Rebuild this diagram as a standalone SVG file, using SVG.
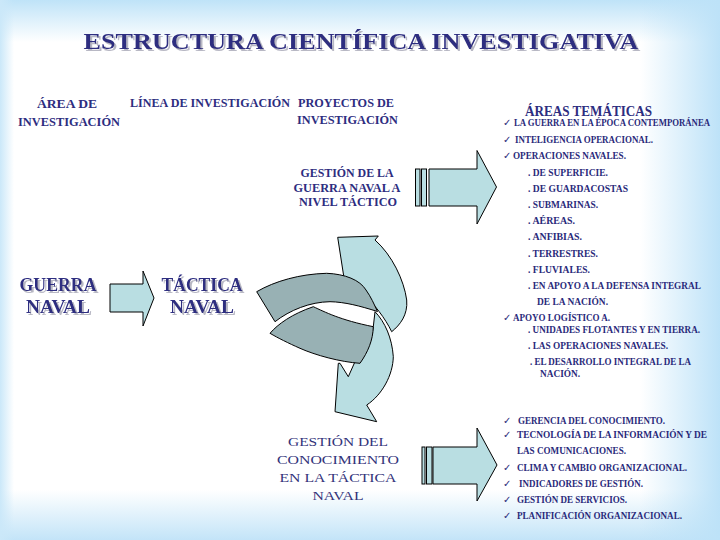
<svg xmlns="http://www.w3.org/2000/svg" width="720" height="540" viewBox="0 0 720 540">
<defs>
<linearGradient id="gTop" x1="0" y1="0" x2="0" y2="1"><stop offset="0" stop-color="#bfe3f8"/><stop offset="1" stop-color="#bfe3f8" stop-opacity="0"/></linearGradient>
<linearGradient id="gBot" x1="0" y1="0" x2="0" y2="1"><stop offset="0" stop-color="#c3e4f8" stop-opacity="0"/><stop offset="1" stop-color="#c3e4f8"/></linearGradient>
<linearGradient id="gRight" x1="0" y1="0" x2="1" y2="0"><stop offset="0" stop-color="#bfe3f8" stop-opacity="0"/><stop offset="1" stop-color="#bde2f8"/></linearGradient>
<linearGradient id="gLeft" x1="0" y1="0" x2="1" y2="0"><stop offset="0" stop-color="#cbe8f9"/><stop offset="1" stop-color="#cbe8f9" stop-opacity="0"/></linearGradient>
<filter id="shadow" x="-5%" y="-20%" width="110%" height="150%">
<feDropShadow dx="2" dy="2" stdDeviation="0.4" flood-color="#b8b8c4" flood-opacity="1"/>
</filter>
<style>
.t{font-family:"Liberation Serif","Times New Roman",serif;font-weight:bold;fill:#2d2d80}
.hd{font-size:12.5px}
.li{font-family:"Liberation Serif","Times New Roman",serif;font-weight:bold;font-size:9.5px;fill:#29297a}
.ck{font-family:"DejaVu Sans",sans-serif;font-size:10px;fill:#29297a}
.mid{text-anchor:middle}
.blk{fill:#b9dee2;stroke:#000;stroke-width:1}
.drk{fill:#98b1b4;stroke:#000;stroke-width:1}
.gc{font-family:"Liberation Serif","Times New Roman",serif;font-size:13.5px;fill:#33337a;text-anchor:middle}
</style>
</defs>
<rect width="720" height="540" fill="#ffffff"/>
<rect x="0" y="0" width="720" height="42" fill="url(#gTop)"/>
<rect x="0" y="490" width="720" height="50" fill="url(#gBot)"/>
<rect x="640" y="0" width="80" height="540" fill="url(#gRight)"/>
<rect x="0" y="0" width="14" height="540" fill="url(#gLeft)"/>

<g id="title">
<text class="t" x="361" y="49" font-size="24" text-anchor="middle" textLength="555" lengthAdjust="spacingAndGlyphs" filter="url(#shadow)">ESTRUCTURA CIENTÍFICA INVESTIGATIVA</text>
</g>

<g id="headers">
<text class="t hd mid" x="67" y="108" textLength="60" lengthAdjust="spacingAndGlyphs">ÁREA DE</text>
<text class="t hd mid" x="69" y="126" textLength="102" lengthAdjust="spacingAndGlyphs">INVESTIGACIÓN</text>
<text class="t hd" x="130" y="107" textLength="160" lengthAdjust="spacingAndGlyphs">LÍNEA DE INVESTIGACIÓN</text>
<text class="t hd" x="298" y="107" textLength="96" lengthAdjust="spacingAndGlyphs">PROYECTOS DE</text>
<text class="t hd" x="297" y="124" textLength="101" lengthAdjust="spacingAndGlyphs">INVESTIGACIÓN</text>
</g>

<g id="guerra-naval" filter="url(#shadow)">
<text class="t mid" x="58" y="291" font-size="18" textLength="77" lengthAdjust="spacingAndGlyphs">GUERRA</text>
<text class="t mid" x="58" y="313" font-size="18" textLength="64" lengthAdjust="spacingAndGlyphs">NAVAL</text>
</g>

<g id="tactica-naval" filter="url(#shadow)">
<text class="t mid" x="202" y="291" font-size="18" textLength="81" lengthAdjust="spacingAndGlyphs">TÁCTICA</text>
<text class="t mid" x="202" y="313" font-size="18" textLength="64" lengthAdjust="spacingAndGlyphs">NAVAL</text>
</g>

<g id="gestion-guerra">
<text class="t mid" x="347" y="177" font-size="11.5" textLength="93" lengthAdjust="spacingAndGlyphs">GESTIÓN DE LA</text>
<text class="t mid" x="347" y="192" font-size="11.5" textLength="107" lengthAdjust="spacingAndGlyphs">GUERRA NAVAL A</text>
<text class="t mid" x="348" y="206" font-size="11.5" textLength="98" lengthAdjust="spacingAndGlyphs">NIVEL TÁCTICO</text>
</g>

<g id="gestion-conocimiento">
<text class="gc" x="338" y="446" textLength="100" lengthAdjust="spacingAndGlyphs">GESTIÓN DEL</text>
<text class="gc" x="338" y="464" textLength="122" lengthAdjust="spacingAndGlyphs">CONOCIMIENTO</text>
<text class="gc" x="338" y="482" textLength="117" lengthAdjust="spacingAndGlyphs">EN LA TÁCTICA</text>
<text class="gc" x="338" y="500" textLength="51" lengthAdjust="spacingAndGlyphs">NAVAL</text>
</g>

<g id="areas-tematicas">
<text class="t" x="525" y="116" font-size="14" textLength="127" lengthAdjust="spacingAndGlyphs">ÁREAS TEMÁTICAS</text>
<text class="ck" x="503" y="126">✓</text>
<text class="li" x="514" y="126" font-size="8.5" textLength="196" lengthAdjust="spacingAndGlyphs">LA GUERRA EN LA ÉPOCA CONTEMPORÁNEA</text>
<text class="ck" x="503" y="143">✓</text>
<text class="li" x="515" y="143" textLength="138" lengthAdjust="spacingAndGlyphs">INTELIGENCIA OPERACIONAL.</text>
<text class="ck" x="503" y="159">✓</text>
<text class="li" x="513" y="159" textLength="113" lengthAdjust="spacingAndGlyphs">OPERACIONES NAVALES.</text>
<text class="li" x="528" y="176" textLength="80" lengthAdjust="spacingAndGlyphs">. DE  SUPERFICIE.</text>
<text class="li" x="528" y="192" textLength="100" lengthAdjust="spacingAndGlyphs">. DE   GUARDACOSTAS</text>
<text class="li" x="528" y="208" textLength="70" lengthAdjust="spacingAndGlyphs">. SUBMARINAS.</text>
<text class="li" x="528" y="224" textLength="47" lengthAdjust="spacingAndGlyphs">.  AÉREAS.</text>
<text class="li" x="528" y="240" textLength="54" lengthAdjust="spacingAndGlyphs">.  ANFIBIAS.</text>
<text class="li" x="528" y="257" textLength="70" lengthAdjust="spacingAndGlyphs">.  TERRESTRES.</text>
<text class="li" x="528" y="273" textLength="62" lengthAdjust="spacingAndGlyphs">.  FLUVIALES.</text>
<text class="li" x="528" y="289" textLength="173" lengthAdjust="spacingAndGlyphs">.  EN APOYO A LA DEFENSA INTEGRAL</text>
<text class="li" x="537" y="305" textLength="71" lengthAdjust="spacingAndGlyphs">DE  LA  NACIÓN.</text>
<text class="ck" x="503" y="321">✓</text>
<text class="li" x="513" y="321" textLength="97" lengthAdjust="spacingAndGlyphs">APOYO LOGÍSTICO A.</text>
<text class="li" x="528" y="333" textLength="172" lengthAdjust="spacingAndGlyphs">. UNIDADES FLOTANTES Y EN  TIERRA.</text>
<text class="li" x="528" y="349" textLength="140" lengthAdjust="spacingAndGlyphs">.  LAS OPERACIONES NAVALES.</text>
<text class="li" x="530" y="365" textLength="161" lengthAdjust="spacingAndGlyphs">. EL DESARROLLO INTEGRAL DE LA</text>
<text class="li" x="540" y="377" textLength="40" lengthAdjust="spacingAndGlyphs">NACIÓN.</text>
</g>

<g id="areas-conocimiento">
<text class="ck" x="503" y="424">✓</text>
<text class="li" x="518" y="424" textLength="147" lengthAdjust="spacingAndGlyphs">GERENCIA DEL CONOCIMIENTO.</text>
<text class="ck" x="503" y="438">✓</text>
<text class="li" x="517" y="438" textLength="190" lengthAdjust="spacingAndGlyphs">TECNOLOGÍA DE LA  INFORMACIÓN Y DE</text>
<text class="li" x="517" y="454" textLength="109" lengthAdjust="spacingAndGlyphs">LAS COMUNICACIONES.</text>
<text class="ck" x="503" y="471">✓</text>
<text class="li" x="517" y="471" textLength="170" lengthAdjust="spacingAndGlyphs">CLIMA Y CAMBIO ORGANIZACIONAL.</text>
<text class="ck" x="503" y="487">✓</text>
<text class="li" x="519" y="487" textLength="124" lengthAdjust="spacingAndGlyphs">INDICADORES DE GESTIÓN.</text>
<text class="ck" x="503" y="503">✓</text>
<text class="li" x="517" y="503" textLength="110" lengthAdjust="spacingAndGlyphs">GESTIÓN DE SERVICIOS.</text>
<text class="ck" x="503" y="519">✓</text>
<text class="li" x="517" y="519" textLength="165" lengthAdjust="spacingAndGlyphs">PLANIFICACIÓN  ORGANIZACIONAL.</text>
</g>

<g id="connectors">
<path class="blk" d="M110,284 H143 V271 L154,298 L143,326 V312 H110 Z"/>
<rect class="blk" x="415.5" y="169" width="4.5" height="37"/>
<rect class="blk" x="421.5" y="169" width="5" height="37"/>
<path class="blk" d="M429,169 H477 V150.5 L496.5,187 L477,224 V206 H429 Z"/>
<rect class="blk" x="422" y="447" width="3" height="37"/>
<rect class="blk" x="426.5" y="447" width="5.5" height="37"/>
<path class="blk" d="M433,447 H477 V428 L497,465 L477,501 V484 H433 Z"/>
<path class="blk" d="M337.7,237.3 L378.3,236 L375,240 C392,255 404,280 406.7,300 C408,315 400,325 391.7,331.7 C385,318 375,305 360,290 C352,283 346,280 344,278 Z"/>
<path class="blk" d="M375,311.7 C385,322 392,338 393.3,356.7 C393,375 382,395 366.7,405 L376.7,421.7 L335,411.7 L338.3,363.3 L340,363.3 L348.3,376.7 L355,361.7 C365,350 372,338 373.3,326.7 Z"/>
<path class="drk" d="M270,333.3 C278,324 292,314 313.3,306.7 C325,312 340,320 373.3,326.7 C373,340 368,352 360,363.3 C340,362 315,355 300,348.3 C288,343 278,338 270,333.3 Z"/>
<path class="drk" d="M256.7,291.7 C275,281 300,274 326.7,273.3 C345,274 360,280 366,290 C371,297 374,304 377.5,311.5 C360,306 345,302 330,301.7 C310,302 290,310 275,321.7 Z"/>
</g>
</svg>
